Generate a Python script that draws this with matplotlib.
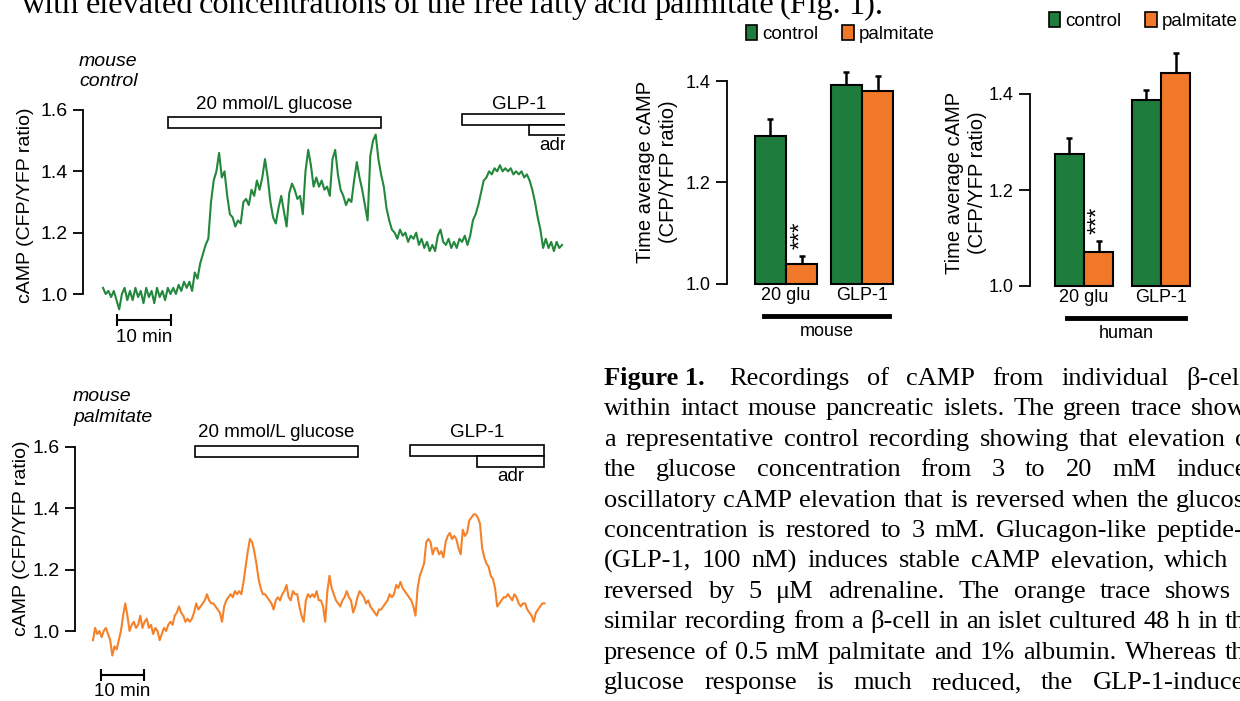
import numpy as np
import matplotlib
matplotlib.use("Agg")
import matplotlib.pyplot as plt
from matplotlib.patches import Rectangle, Patch
from matplotlib.lines import Line2D

W, H = 1240, 701
plt.rcParams['font.family'] = ['Liberation Sans', 'DejaVu Sans']

# cAMP traces, CFP/YFP ratio, one sample every 0.5 min
dt = 0.5
ctrl_trace = [
    1.02, 1.00, 1.01, 0.99, 1.01, 0.98, 0.95, 1.00, 1.02, 0.98, 1.01, 0.98, 1.02,
    0.99, 1.01, 0.97, 1.02, 0.99, 1.01, 0.97, 1.02, 0.99, 1.01, 0.98, 1.02,
    1.00, 1.02, 1.00, 1.03, 1.01, 1.04, 1.02, 1.04, 1.01, 1.07, 1.05, 1.10,
    1.13, 1.16, 1.18, 1.30, 1.37, 1.40, 1.46, 1.38, 1.40, 1.32, 1.26, 1.25,
    1.22, 1.24, 1.23, 1.30, 1.31, 1.29, 1.34, 1.32, 1.37, 1.34, 1.38, 1.44,
    1.38, 1.30, 1.25, 1.23, 1.28, 1.32, 1.27, 1.22, 1.33, 1.36, 1.34, 1.31,
    1.32, 1.26, 1.40, 1.47, 1.42, 1.35, 1.38, 1.35, 1.37, 1.34, 1.35, 1.32,
    1.44, 1.47, 1.39, 1.34, 1.32, 1.29, 1.31, 1.30, 1.37, 1.43, 1.38, 1.34,
    1.29, 1.24, 1.45, 1.50, 1.52, 1.44, 1.39, 1.35, 1.28, 1.24, 1.21, 1.20,
    1.18, 1.21, 1.19, 1.20, 1.17, 1.19, 1.18, 1.20, 1.16, 1.18, 1.15, 1.17,
    1.14, 1.16, 1.14, 1.19, 1.21, 1.17, 1.16, 1.18, 1.15, 1.17, 1.15, 1.18,
    1.17, 1.19, 1.16, 1.19, 1.24, 1.26, 1.29, 1.33, 1.37, 1.38, 1.40, 1.39,
    1.41, 1.40, 1.42, 1.40, 1.41, 1.40, 1.41, 1.39, 1.40, 1.39, 1.40, 1.38,
    1.39, 1.37, 1.34, 1.30, 1.25, 1.21, 1.15, 1.18, 1.15, 1.17, 1.14, 1.17,
    1.15, 1.16,
]
palm_trace = [
    0.97, 1.01, 0.99, 1.00, 0.98, 1.00, 1.01, 0.99, 0.97, 0.92, 0.95, 0.94, 0.97,
    1.00, 1.05, 1.09, 1.05, 1.00, 1.02, 1.03, 1.01, 1.02, 1.05, 1.01, 1.03,
    1.04, 1.01, 1.02, 0.99, 1.01, 1.00, 0.97, 0.99, 1.01, 1.00, 1.02, 1.03,
    1.02, 1.05, 1.06, 1.08, 1.06, 1.05, 1.03, 1.04, 1.03, 1.04, 1.06, 1.09,
    1.07, 1.08, 1.09, 1.10, 1.12, 1.10, 1.09, 1.09, 1.08, 1.07, 1.06, 1.03,
    1.08, 1.10, 1.11, 1.12, 1.11, 1.13, 1.12, 1.13, 1.12, 1.16, 1.21, 1.26,
    1.30, 1.29, 1.26, 1.22, 1.17, 1.14, 1.12, 1.12, 1.11, 1.10, 1.09, 1.07,
    1.10, 1.11, 1.10, 1.12, 1.13, 1.15, 1.11, 1.10, 1.13, 1.12, 1.12, 1.08,
    1.05, 1.03, 1.10, 1.12, 1.11, 1.12, 1.11, 1.13, 1.10, 1.10, 1.08, 1.03,
    1.13, 1.18, 1.14, 1.12, 1.10, 1.09, 1.08, 1.10, 1.11, 1.13, 1.11, 1.10,
    1.06, 1.08, 1.11, 1.13, 1.12, 1.11, 1.09, 1.10, 1.08, 1.07, 1.06, 1.05,
    1.07, 1.07, 1.08, 1.09, 1.10, 1.12, 1.11, 1.12, 1.15, 1.14, 1.16, 1.14,
    1.13, 1.12, 1.11, 1.10, 1.08, 1.05, 1.14, 1.18, 1.20, 1.22, 1.29, 1.30,
    1.29, 1.25, 1.27, 1.27, 1.25, 1.26, 1.24, 1.29, 1.31, 1.32, 1.30, 1.31,
    1.30, 1.27, 1.25, 1.33, 1.31, 1.32, 1.36, 1.37, 1.38, 1.38, 1.37, 1.35,
    1.27, 1.24, 1.22, 1.21, 1.18, 1.17, 1.14, 1.08, 1.09, 1.10, 1.11, 1.11,
    1.12, 1.11, 1.10, 1.12, 1.11, 1.09, 1.08, 1.09, 1.09, 1.07, 1.06, 1.05,
    1.03, 1.06, 1.07, 1.08, 1.09, 1.09,
]

# application periods (min from start of each trace)
ctrl_glucose = (12.0, 51.5)
ctrl_glp1 = (66.5, 87.6)
ctrl_adr = (78.9, 87.6)
palm_glucose = (23.7, 61.6)
palm_glp1 = (73.7, 104.9)
palm_adr = (89.3, 104.9)

# time averages
groups = ['20 glu', 'GLP-1']
mouse_ctrl = [1.292, 1.392]
mouse_ctrl_err = [0.033, 0.026]
mouse_palm = [1.039, 1.380]
mouse_palm_err = [0.016, 0.030]
human_ctrl = [1.274, 1.388]
human_ctrl_err = [0.035, 0.021]
human_palm = [1.070, 1.444]
human_palm_err = [0.024, 0.042]

GREEN_LINE = '#23873c'
ORANGE_LINE = '#f5822a'
GREEN = '#1e7d3c'
ORANGE = '#f07828'

fig = plt.figure(figsize=(W / 100, H / 100), dpi=100)


def add_ax(l, t, r, b):
    return fig.add_axes([l / W, 1 - b / H, (r - l) / W, (b - t) / H])


def ftext(px, py, s, **kw):
    return fig.text(px / W, 1 - py / H, s, **kw)


def trace_panel(box, y10, y16, x0, ppm, trace, color, glu, glp, adr, rows):
    l, t, r, b = box
    ax = add_ax(l, t, r, b)
    s = (y10 - y16) / 0.6
    yv = lambda py: 1.0 + (y10 - py) / s
    ax.set_ylim(yv(b), yv(t))
    ax.set_xlim((l - x0) / ppm, (r - x0) / ppm)
    ax.patch.set_alpha(0)
    time = np.arange(len(trace)) * dt
    ax.plot(time, trace, color=color, lw=1.5)
    for side in ['top', 'right', 'bottom']:
        ax.spines[side].set_visible(False)
    ax.spines['left'].set_bounds(1.0, 1.6)
    ax.spines['left'].set_linewidth(1.3)
    ax.set_yticks([1.0, 1.2, 1.4, 1.6])
    ax.set_yticklabels(['1.0', '1.2', '1.4', '1.6'])
    ax.tick_params(axis='y', length=7, width=1.3, pad=4, labelsize=14)
    ax.set_xticks([])
    for (a, e), (pt, pb) in zip([glu, glp, adr], [rows['glu'], rows['glp'], rows['adr']]):
        ax.add_patch(Rectangle((a, yv(pb)), e - a, yv(pt) - yv(pb),
                               facecolor='white', edgecolor='black', lw=1.2, zorder=3))
    ax.text(sum(glu) / 2, yv(rows['lab']), '20 mmol/L glucose', ha='center', va='center', fontsize=13.5)
    ax.text(sum(glp) / 2, yv(rows['lab']), 'GLP-1', ha='center', va='center', fontsize=13.5)
    ax.text(sum(adr) / 2, yv(rows['adrlab']), 'adr', ha='center', va='center', fontsize=13.5, clip_on=True)
    st = rows['sb0']
    ax.plot([st, st + 10], [yv(rows['sb'])] * 2, color='black', lw=1.5,
            marker='|', ms=8, mew=1.5, clip_on=False)
    ax.text(st + 5, yv(rows['sblab']), '10 min', ha='center', va='center', fontsize=13.5, clip_on=False)
    return ax


trace_panel((83, 40, 565, 350), 294, 110, 103, 5.4, ctrl_trace, GREEN_LINE,
            ctrl_glucose, ctrl_glp1, ctrl_adr,
            dict(glu=(117, 128), glp=(114, 125), adr=(125, 135), lab=104, adrlab=145,
                 sb=320, sblab=337, sb0=2.6))
trace_panel((75, 380, 560, 700), 631, 447, 93, 4.3, palm_trace, ORANGE_LINE,
            palm_glucose, palm_glp1, palm_adr,
            dict(glu=(446, 457), glp=(445, 456), adr=(456, 467), lab=433, adrlab=477,
                 sb=675, sblab=692, sb0=1.86))

ftext(79, 62, 'mouse', style='italic', va='center', fontsize=14)
ftext(79, 81, 'control', style='italic', va='center', fontsize=14)
ftext(73, 397, 'mouse', style='italic', va='center', fontsize=14)
ftext(73, 418, 'palmitate', style='italic', va='center', fontsize=14)
ftext(26, 205, 'cAMP (CFP/YFP ratio)', rotation=90, ha='center', va='center', fontsize=14)
ftext(21, 538, 'cAMP (CFP/YFP ratio)', rotation=90, ha='center', va='center', fontsize=14)


def bar_panel(box, y14, c0, c1, ctrl, ctrl_err, palm, palm_err, w, legend_xy, under, name):
    l, t, r, b = box
    ax = add_ax(l, t, r, b)
    s = (b - y14) / 0.4
    ax.set_ylim(1.0, 1.0 + (b - t) / s)
    step = c1 - c0
    ax.set_xlim((l - c0) / step, (r - c0) / step)
    ax.patch.set_alpha(0)
    x = np.arange(len(groups))
    ax.bar(x - w / 2, np.array(ctrl) - 1.0, w, bottom=1.0, color=GREEN,
           edgecolor='black', lw=1.5, clip_on=False, zorder=3)
    ax.bar(x + w / 2, np.array(palm) - 1.0, w, bottom=1.0, color=ORANGE,
           edgecolor='black', lw=1.5, clip_on=False, zorder=3)
    ax.errorbar(x - w / 2, ctrl, yerr=[np.zeros(len(x)), ctrl_err], fmt='none',
                ecolor='black', elinewidth=1.8, capsize=2.5, capthick=1.8, zorder=2)
    ax.errorbar(x + w / 2, palm, yerr=[np.zeros(len(x)), palm_err], fmt='none',
                ecolor='black', elinewidth=1.8, capsize=2.5, capthick=1.8, zorder=2)
    ax.annotate('***', (x[0] + w / 2, palm[0] + palm_err[0]), xytext=(0, 5),
                textcoords='offset points', rotation=90, ha='center', va='bottom', fontsize=17)
    for side in ['top', 'right', 'bottom']:
        ax.spines[side].set_visible(False)
    ax.spines['left'].set_bounds(1.0, 1.4)
    ax.spines['left'].set_linewidth(1.3)
    ax.set_yticks([1.0, 1.2, 1.4])
    ax.set_yticklabels(['1.0', '1.2', '1.4'])
    ax.tick_params(axis='y', length=8, width=1.3, pad=4, labelsize=13)
    ax.set_xticks(x)
    ax.set_xticklabels(groups)
    ax.tick_params(axis='x', length=0, pad=2, labelsize=13)
    handles = [Patch(facecolor=GREEN, edgecolor='black', lw=1.2, label='control'),
               Patch(facecolor=ORANGE, edgecolor='black', lw=1.2, label='palmitate')]
    ax.legend(handles=handles, loc='center left', bbox_to_anchor=(legend_xy[0] / W, 1 - legend_xy[1] / H),
              bbox_transform=fig.transFigure, ncol=2, frameon=False, borderpad=0, borderaxespad=0,
              handlelength=0.6, handleheight=0.85, handletextpad=0.25, columnspacing=1.3, fontsize=13.5)
    ux0, ux1, uy = under
    fig.add_artist(Line2D([ux0 / W, ux1 / W], [1 - uy / H, 1 - uy / H], color='black', lw=3.5))
    ftext((ux0 + ux1) / 2, uy + 16, name, ha='center', va='center', fontsize=13)
    return ax


bar_panel((727, 40, 905, 284), 81, 786, 862, mouse_ctrl, mouse_ctrl_err,
          mouse_palm, mouse_palm_err, 0.41, (746, 34), (764, 889, 316), 'mouse')
bar_panel((1030, 40, 1215, 286), 94, 1084, 1161, human_ctrl, human_ctrl_err,
          human_palm, human_palm_err, 0.38, (1049, 21), (1067, 1185, 318), 'human')

label2 = 'Time average cAMP\n(CFP/YFP ratio)'
ftext(657, 172, label2, rotation=90, ha='center', va='center', fontsize=14.5,
      linespacing=1.25, multialignment='center')
ftext(966, 183, label2, rotation=90, ha='center', va='center', fontsize=14.5,
      linespacing=1.25, multialignment='center')

# running text, justified like the printed page
renderer = fig.canvas.get_renderer()


def justify(words, left, right, py, size, bold_first=False):
    arts = []
    for i, w in enumerate(words):
        weight = 'bold' if (bold_first and i == 0) else 'normal'
        arts.append(ftext(0, py, w, family='Liberation Serif', fontsize=size,
                          weight=weight, va='baseline'))
    widths = [a.get_window_extent(renderer).width for a in arts]
    gap = (right - left - sum(widths)) / (len(words) - 1)
    xpos = left
    for a, wd in zip(arts, widths):
        a.set_x(xpos / W)
        xpos += wd + gap


justify('with elevated concentrations of the free fatty acid palmitate (Fig. 1).'.split(),
        22, 883, 13, 23.2)

caption = [
    'Recordings of cAMP from individual β-cells',
    'within intact mouse pancreatic islets. The green trace shows',
    'a representative control recording showing that elevation of',
    'the glucose concentration from 3 to 20 mM induces',
    'oscillatory cAMP elevation that is reversed when the glucose',
    'concentration is restored to 3 mM. Glucagon-like peptide-1',
    '(GLP-1, 100 nM) induces stable cAMP elevation, which is',
    'reversed by 5 μM adrenaline. The orange trace shows a',
    'similar recording from a β-cell in an islet cultured 48 h in the',
    'presence of 0.5 mM palmitate and 1% albumin. Whereas the',
    'glucose response is much reduced, the GLP-1-induced',
]
for i, line in enumerate(caption):
    words = line.split()
    if i == 0:
        words = ['Figure 1. '] + words
    justify(words, 604, 1257, 385 + 30.4 * i, 19, bold_first=(i == 0))

fig.savefig('out.png', dpi=100)
